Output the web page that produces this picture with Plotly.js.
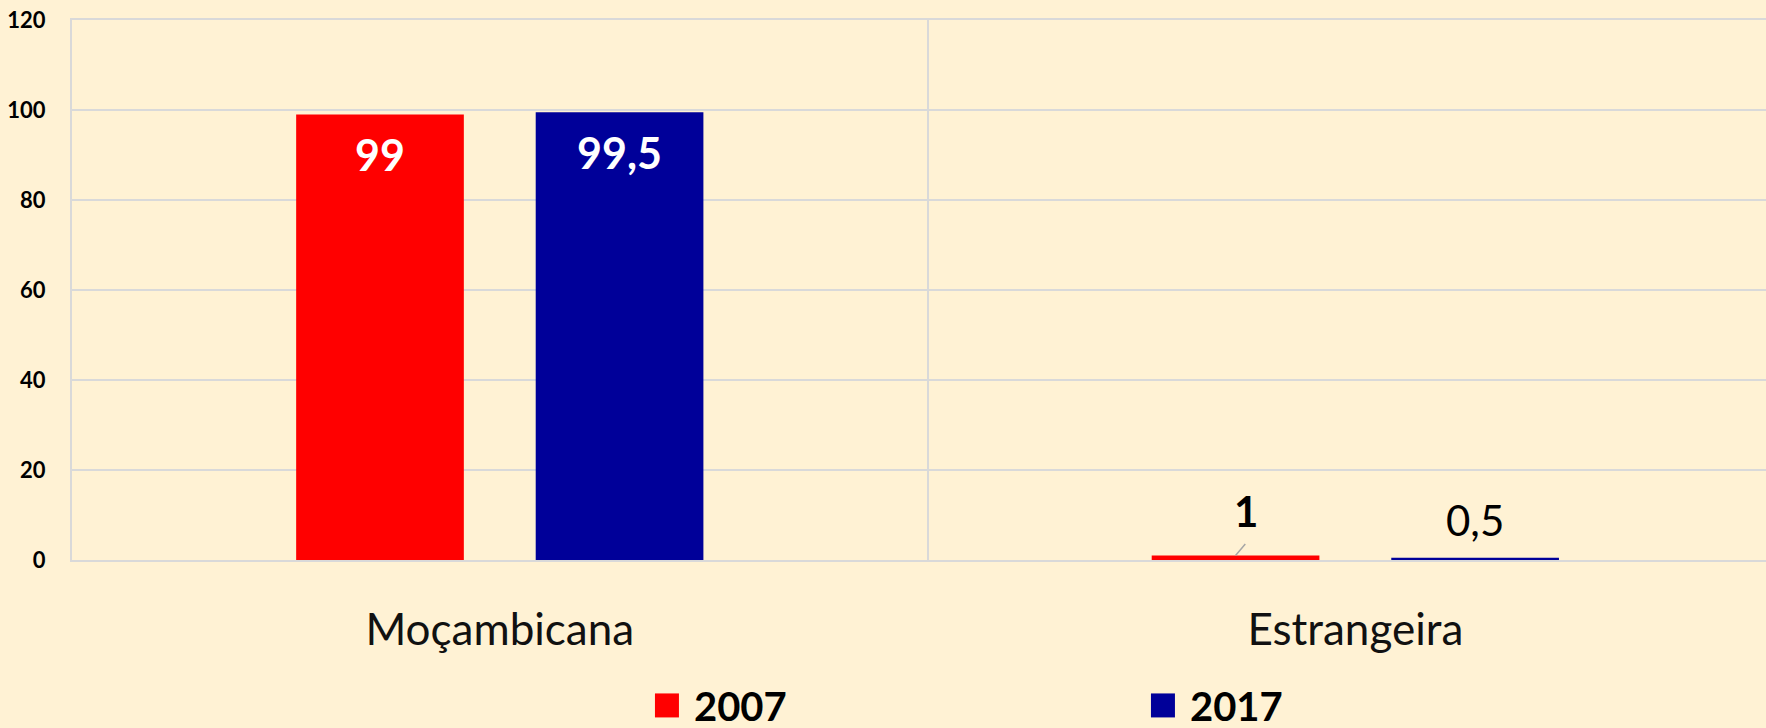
<!DOCTYPE html>
<html>
<head>
<meta charset="utf-8">
<script src="https://cdn.plot.ly/plotly-3.0.1.min.js"></script>
<style>
  html, body { margin: 0; padding: 0; background: #fff2d4; }
  #chart { width: 1766px; height: 728px; }
</style>
</head>
<body>
<div id="chart"></div>
<script>
var categories = ['Moçambicana', 'Estrangeira'];
var years = ['2007', '2017'];
var values2007 = [99, 1];
var values2017 = [99.5, 0.5];
var yTicks = [0, 20, 40, 60, 80, 100, 120];

var series = [values2007, values2017];
var colors = ['#ff0000', '#000099'];
var barWidth = 0.196;
var offsets = [-0.238, 0.042];
var font = 'Lato, "Open Sans", sans-serif';

function fmt(v) { return String(v).replace('.', ','); }

var traces = series.map(function(vals, i) {
  return {
    type: 'bar',
    name: years[i],
    x: categories,
    y: vals,
    width: barWidth,
    offset: offsets[i],
    marker: {color: colors[i]},
    hoverinfo: 'none'
  };
});

// data labels
var annotations = [];
series.forEach(function(vals, i) {
  vals.forEach(function(v, j) {
    var cx = j + offsets[i] + barWidth / 2;
    if (v > 10) {
      annotations.push({
        x: cx, y: v, text: fmt(v), showarrow: false, yshift: -40,
        font: {family: font, size: 43, color: '#ffffff', weight: 'bold'}
      });
    } else if (i === 0) {
      annotations.push({
        x: cx, y: v, text: fmt(v), showarrow: false, xshift: 10, yshift: 45,
        font: {family: font, size: 42, color: '#000000', weight: 'bold'}
      });
      // leader line
      annotations.push({
        x: cx, y: v, text: '', showarrow: true, arrowhead: 0,
        arrowwidth: 1.5, arrowcolor: '#a6a6a6', ax: 11, ay: -13, standoff: 0
      });
    } else {
      annotations.push({
        x: cx, y: v, text: fmt(v), showarrow: false, yshift: 38,
        font: {family: font, size: 42, color: '#000000'}
      });
    }
  });
});

var layout = {
  width: 1766,
  height: 728,
  margin: {l: 72, r: 0, t: 20, b: 168},
  paper_bgcolor: '#fff2d4',
  plot_bgcolor: '#fff2d4',
  font: {family: font, color: '#000000'},
  xaxis: {
    type: 'category',
    range: [-0.5, 1.48],
    tickson: 'boundaries',
    showgrid: true,
    gridcolor: '#d9d9d9',
    gridwidth: 2,
    showline: true,
    mirror: true,
    linecolor: '#d9d9d9',
    linewidth: 2,
    ticks: '',
    ticklabelstandoff: 30,
    tickfont: {family: font, size: 44, color: '#111111'},
    fixedrange: true
  },
  yaxis: {
    range: [0, 120],
    tickvals: yTicks,
    ticktext: yTicks.map(String),
    showgrid: true,
    gridcolor: '#d9d9d9',
    gridwidth: 2,
    showline: true,
    linecolor: '#d9d9d9',
    linewidth: 2,
    zeroline: false,
    ticks: '',
    ticklabelstandoff: 20,
    tickfont: {family: font, size: 22, color: '#000000', weight: 'bold'},
    fixedrange: true
  },
  showlegend: true,
  legend: {
    orientation: 'h',
    xref: 'container',
    yref: 'container',
    x: 0.3703,
    xanchor: 'left',
    y: 0.031,
    yanchor: 'middle',
    entrywidth: 451,
    bgcolor: 'rgba(0,0,0,0)',
    font: {family: font, size: 40, color: '#000000', weight: 'bold'}
  },
  annotations: annotations
};

Plotly.newPlot('chart', traces, layout, {displayModeBar: false, staticPlot: true}).then(function() {
  // bigger legend swatches, closer to their labels
  document.querySelectorAll('.legendpoints path').forEach(function(p) {
    p.setAttribute('transform', 'translate(13,0) scale(2)');
  });
});
</script>
</body>
</html>
